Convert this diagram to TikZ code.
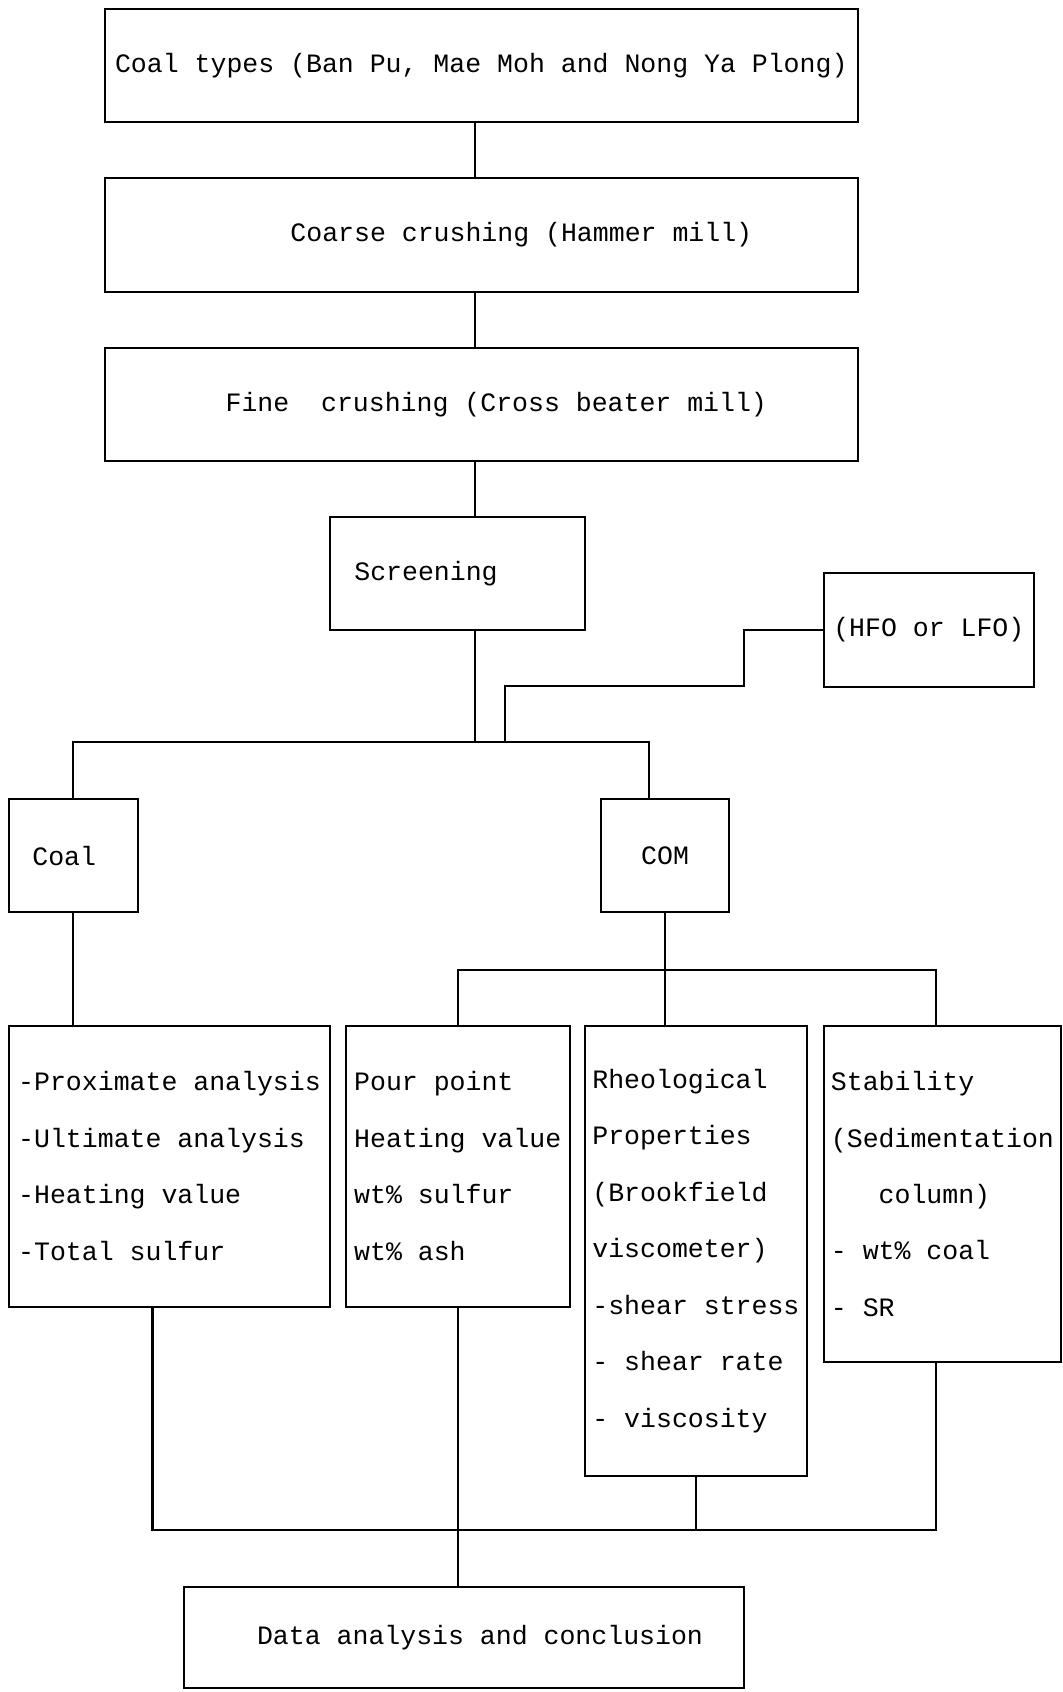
\documentclass[tikz,border=0pt]{standalone}
\usepackage{fontspec}
\setmonofont{Liberation Mono}
\tikzset{
	box/.style={draw, line width=0.6pt, inner sep=0pt, align=left,
		font=\ttfamily\fontsize{7.55}{16.07}\selectfont},
	link/.style={line width=0.6pt}
}
\begin{document}
\begin{tikzpicture}
	\useasboundingbox (0,0) rectangle (10.63,-16.92);
	\node[box, minimum width=7.53cm, minimum height=1.124cm] (types) at (4.813,-0.655) {Coal types (Ban Pu, Mae Moh and Nong Ya Plong)};
	\node[box, minimum width=7.53cm, minimum height=1.134cm] (coarse) at (4.813,-2.35) {\hspace*{0.8cm}Coarse crushing (Hammer mill)};
	\node[box, minimum width=7.53cm, minimum height=1.133cm] (fine) at (4.813,-4.043) {\hspace*{0.3cm}Fine\ \ crushing (Cross beater mill)};
	\node[box, minimum width=2.55cm, minimum height=1.133cm] (screen) at (4.575,-5.733) {Screening\hspace*{0.63cm}};
	\node[box, minimum width=2.10cm, minimum height=1.134cm] (oil) at (9.288,-6.30) {(HFO or LFO)};
	\node[box, minimum width=1.288cm, minimum height=1.133cm] (coal) at (0.732,-8.557) {Coal\hspace*{0.18cm}};
	\node[box, minimum width=1.274cm, minimum height=1.133cm] (com) at (6.651,-8.557) {COM};
	\node[box, minimum width=3.214cm, minimum height=2.81cm] (prox) at (1.695,-11.662) {-Proximate analysis\\-Ultimate analysis\\-Heating value\\-Total sulfur};
	\node[box, minimum width=2.237cm, minimum height=2.81cm] (pour) at (4.577,-11.662) {Pour point\\Heating value\\wt\% sulfur\\wt\% ash};
	\node[box, minimum width=2.218cm, minimum height=4.50cm] (rheo) at (6.959,-12.507) {Rheological\\Properties\\(Brookfield\\viscometer)\\-shear stress\\- shear rate\\- viscosity};
	\node[box, minimum width=2.373cm, minimum height=3.366cm] (stab) at (9.424,-11.94) {Stability\\(Sedimentation\\\phantom{xxx}column)\\- wt\% coal\\- SR};
	\node[box, minimum width=5.593cm, minimum height=1.013cm] (data) at (4.64,-16.374) {\hspace*{0.32cm}Data analysis and conclusion};
	\coordinate (spine) at (4.746,0);
	\coordinate (split) at (4.746,-7.423);
	\coordinate (oiljoin) at (5.05,-7.423);
	\coordinate (comsplit) at (6.651,-9.70);
	\coordinate (merge) at (4.577,-15.30);
	\draw[link] (types.south -| spine) -- (coarse.north -| spine);
	\draw[link] (coarse.south -| spine) -- (fine.north -| spine);
	\draw[link] (fine.south -| spine) -- (screen.north -| spine);
	\draw[link] (screen.south -| spine) -- (split);
	\draw[link] (coal.north) |- (split) -| ([xshift=-0.163cm]com.north);
	\draw[link] (oil.west) -| (7.444,-6.86) -| (oiljoin);
	\draw[link] (coal.south) -- (coal.south |- prox.north);
	\draw[link] (com.south) -- (com.south |- rheo.north);
	\draw[link] (pour.north) |- (comsplit) -| ([xshift=-0.06cm]stab.north);
	\draw[link] ([xshift=-0.17cm]prox.south) |- (merge);
	\draw[link] (pour.south) -- (data.north -| pour.south);
	\draw[link] (rheo.south) |- (merge);
	\draw[link] ([xshift=-0.06cm]stab.south) |- (merge);
\end{tikzpicture}
\end{document}
